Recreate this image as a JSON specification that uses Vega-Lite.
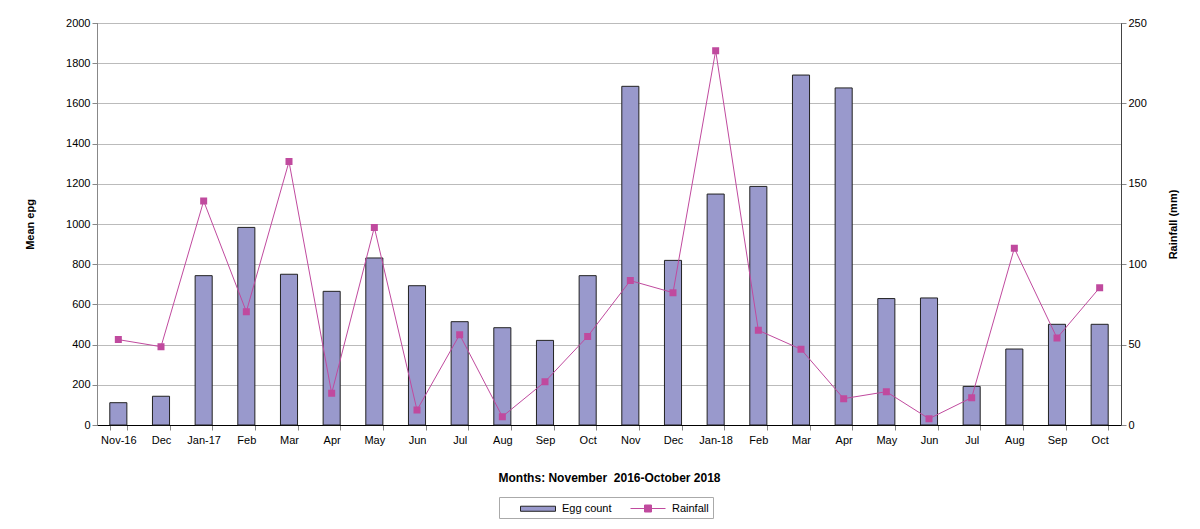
{
  "$schema": "https://vega.github.io/schema/vega-lite/v6.json",
  "autosize": "none",
  "width": 1024,
  "height": 402,
  "padding": {"left": 97, "top": 23, "right": 79, "bottom": 104},
  "background": "white",
  "config": {
    "font": "Liberation Sans",
    "view": {"stroke": "#000", "strokeWidth": 1},
    "axis": {"labelFont": "Liberation Sans", "titleFont": "Liberation Sans", "labelFontSize": 11, "titleFontSize": 11, "labelColor": "#000", "titleColor": "#000"},
    "legend": {
      "orient": "none",
      "legendX": 402,
      "legendY": 474,
      "direction": "horizontal",
      "strokeColor": "#aaa",
      "padding": 4,
      "labelFontSize": 11,
      "labelFont": "Liberation Sans",
      "labelColor": "#000",
      "labelOffset": 16.5,
      "columnPadding": 1,
      "symbolSize": 196,
      "symbolOffset": 27.5,
      "symbolStrokeWidth": 1
    }
  },
  "data": {
    "values": [
      {"id": 1, "month": "Nov-16", "egg": 111, "rain": 53.1},
      {"id": 2, "month": "Dec", "egg": 143, "rain": 48.7},
      {"id": 3, "month": "Jan-17", "egg": 743, "rain": 139.3},
      {"id": 4, "month": "Feb", "egg": 983, "rain": 70.5},
      {"id": 5, "month": "Mar", "egg": 750, "rain": 163.8},
      {"id": 6, "month": "Apr", "egg": 665, "rain": 19.7},
      {"id": 7, "month": "May", "egg": 831, "rain": 122.9},
      {"id": 8, "month": "Jun", "egg": 693, "rain": 9.3},
      {"id": 9, "month": "Jul", "egg": 514, "rain": 56.2},
      {"id": 10, "month": "Aug", "egg": 484, "rain": 5.2},
      {"id": 11, "month": "Sep", "egg": 421, "rain": 26.9},
      {"id": 12, "month": "Oct", "egg": 743, "rain": 55.1},
      {"id": 13, "month": "Nov", "egg": 1685, "rain": 89.8},
      {"id": 14, "month": "Dec", "egg": 819, "rain": 82.3},
      {"id": 15, "month": "Jan-18", "egg": 1149, "rain": 232.8},
      {"id": 16, "month": "Feb", "egg": 1187, "rain": 58.9},
      {"id": 17, "month": "Mar", "egg": 1741, "rain": 47.1},
      {"id": 18, "month": "Apr", "egg": 1677, "rain": 16.4},
      {"id": 19, "month": "May", "egg": 629, "rain": 20.7},
      {"id": 20, "month": "Jun", "egg": 632, "rain": 3.9},
      {"id": 21, "month": "Jul", "egg": 192, "rain": 17.0},
      {"id": 22, "month": "Aug", "egg": 378, "rain": 109.9},
      {"id": 23, "month": "Sep", "egg": 501, "rain": 54.1},
      {"id": 24, "month": "Oct", "egg": 501, "rain": 85.4}
    ]
  },
  "encoding": {
    "x": {
      "field": "id",
      "type": "ordinal",
      "scale": {"paddingInner": 0.6, "paddingOuter": 0.3},
      "axis": {
        "title": "Months: November\u00a0 2016-October 2018",
        "titleFontWeight": "bold",
        "titleFontSize": 12,
        "titlePadding": 27,
        "labelAngle": 0,
        "labelExpr": "['Nov-16','Dec','Jan-17','Feb','Mar','Apr','May','Jun','Jul','Aug','Sep','Oct','Nov','Dec','Jan-18','Feb','Mar','Apr','May','Jun','Jul','Aug','Sep','Oct'][datum.value - 1]",
        "labelPadding": 4,
        "tickBand": "extent",
        "tickSize": 5,
        "tickColor": "#888",
        "domainColor": "#000",
        "grid": false
      }
    }
  },
  "layer": [
    {
      "mark": {"type": "bar", "strokeWidth": 1},
      "encoding": {
        "y": {
          "field": "egg",
          "type": "quantitative",
          "scale": {"domain": [0, 2000]},
          "axis": {
            "title": "Mean epg",
            "titleFontWeight": "bold",
            "titlePadding": 30,
            "format": "d",
            "values": [0, 200, 400, 600, 800, 1000, 1200, 1400, 1600, 1800, 2000],
            "grid": true,
            "gridColor": "#bbb",
            "domainColor": "#888",
            "tickColor": "#888",
            "tickSize": 5
          }
        },
        "fill": {
          "datum": "Egg count",
          "type": "nominal",
          "scale": {"domain": ["Egg count", "Rainfall"], "range": ["#9999CC", "#C04A9E"]},
          "legend": {"title": null}
        },
        "stroke": {
          "datum": "Egg count",
          "type": "nominal",
          "scale": {"domain": ["Egg count", "Rainfall"], "range": ["#222", "#C04A9E"]},
          "legend": {"title": null}
        }
      }
    },
    {
      "mark": {"type": "line", "strokeWidth": 1},
      "encoding": {
        "y": {
          "field": "rain",
          "type": "quantitative",
          "scale": {"domain": [0, 250]},
          "axis": {
            "title": "Rainfall (mm)",
            "titleFontWeight": "bold",
            "titleAngle": 270,
            "titlePadding": 32,
            "orient": "right",
            "values": [0, 50, 100, 150, 200, 250],
            "grid": false,
            "domainColor": "#444",
            "tickColor": "#888",
            "tickSize": 5
          }
        },
        "stroke": {"datum": "Rainfall", "type": "nominal"}
      }
    },
    {
      "mark": {"type": "point", "filled": true, "size": 196, "strokeWidth": 0, "opacity": 1},
      "encoding": {
        "y": {"field": "rain", "type": "quantitative", "scale": {"domain": [0, 250]}, "axis": null},
        "fill": {"datum": "Rainfall", "type": "nominal"},
        "shape": {
          "datum": "Rainfall",
          "type": "nominal",
          "scale": {"domain": ["Egg count", "Rainfall"], "range": ["M-2.5,-0.36H2.5V0.36H-2.5Z", "M-2.5,0H2.5M-0.5,-0.5H0.5V0.5H-0.5Z"]},
          "legend": {"title": null}
        }
      }
    }
  ],
  "resolve": {"scale": {"y": "independent"}}
}
